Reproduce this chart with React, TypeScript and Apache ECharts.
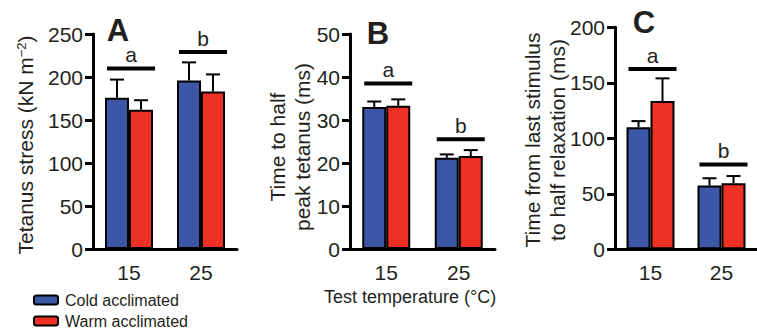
import React, { useEffect, useRef } from "react";
import * as echarts from "echarts";

const categories = ["15", "25"];
const seriesNames = ["Cold acclimated", "Warm acclimated"];

// Panel A: Tetanus stress (kN m-2)
const aCold = [176, 196];
const aColdErr = [21, 21];
const aWarm = [162, 183];
const aWarmErr = [11, 20];
const aSig = [210, 229];
const aSigLetters = ["a", "b"];

// Panel B: Time to half peak tetanus (ms)
const bCold = [33.0, 21.2];
const bColdErr = [1.3, 0.8];
const bWarm = [33.3, 21.6];
const bWarmErr = [1.5, 1.4];
const bSig = [38.5, 25.5];
const bSigLetters = ["a", "b"];

// Panel C: Time from last stimulus to half relaxation (ms)
const cCold = [110, 57.5];
const cColdErr = [5.5, 6.5];
const cWarm = [133.5, 59.5];
const cWarmErr = [20.5, 6.5];
const cSig = [162.5, 76.5];
const cSigLetters = ["a", "b"];

const BLUE = "#3b57a6";
const RED = "#ee3124";
const INK = "#231f20";
const FONT = "Liberation Sans, Arial, Helvetica, sans-serif";
const BAR_W = 24;

function errSeries(grid: number, vals: number[], errs: number[], offset: number) {
  return {
    type: "custom",
    xAxisIndex: grid,
    yAxisIndex: grid,
    z: 5,
    silent: true,
    data: vals.map((v, i) => [i, v, errs[i]]),
    renderItem: (params: any, api: any) => {
      const c = api.value(0);
      const v = api.value(1);
      const e = api.value(2);
      const p0 = api.coord([c, v]);
      const p1 = api.coord([c, v + e]);
      const x = p0[0] + offset;
      return {
        type: "group",
        children: [
          { type: "line", shape: { x1: x, y1: p0[1], x2: x, y2: p1[1] }, style: { stroke: "#000", lineWidth: 2 } },
          { type: "line", shape: { x1: x - 7, y1: p1[1], x2: x + 7, y2: p1[1] }, style: { stroke: "#000", lineWidth: 2 } },
        ],
      };
    },
  };
}

function sigSeries(grid: number, ys: number[], letters: string[]) {
  return {
    type: "custom",
    xAxisIndex: grid,
    yAxisIndex: grid,
    z: 6,
    silent: true,
    data: ys.map((y, i) => [i, y]),
    renderItem: (params: any, api: any) => {
      const c = api.value(0);
      const y = api.value(1);
      const p = api.coord([c, y]);
      const cx = p[0] + 2;
      return {
        type: "group",
        children: [
          { type: "line", shape: { x1: cx - 24, y1: p[1], x2: cx + 24, y2: p[1] }, style: { stroke: "#000", lineWidth: 4 } },
          {
            type: "text",
            x: cx,
            y: p[1] - 3,
            style: { text: letters[params.dataIndex], fontSize: 21, fontFamily: FONT, fill: INK, align: "center", verticalAlign: "bottom" },
          },
        ],
      };
    },
  };
}

function barSeries(grid: number, name: string, vals: number[], color: string) {
  return {
    type: "bar",
    name,
    xAxisIndex: grid,
    yAxisIndex: grid,
    barWidth: BAR_W,
    barGap: "0%",
    data: vals,
    itemStyle: { color, borderColor: "#000", borderWidth: 2 },
  };
}

function legendFor(name: string, top: number) {
  return {
    left: 33,
    top,
    itemWidth: 24,
    itemHeight: 9,
    padding: 0,
    data: [name],
    selectedMode: false,
    textStyle: { fontSize: 16, color: INK, fontFamily: FONT, padding: [0, 0, 0, 2] },
  };
}

export default function App() {
  const ref = useRef<HTMLDivElement>(null);
  useEffect(() => {
    if (!ref.current) return;
    const chart = echarts.init(ref.current, undefined, { renderer: "svg" });
    const grids = [
      { left: 93, top: 34, width: 144, height: 215 },
      { left: 350, top: 34, width: 145, height: 215 },
      { left: 615, top: 27.3, width: 146.7, height: 222 },
    ];
    const yRanges = [
      { max: 250, interval: 50 },
      { max: 50, interval: 10 },
      { max: 200, interval: 50 },
    ];
    const option: any = {
      animation: false,
      textStyle: { fontFamily: FONT },
      grid: grids,
      xAxis: grids.map((_, i) => ({
        type: "category",
        gridIndex: i,
        data: categories,
        axisLine: { lineStyle: { color: "#000", width: 3 } },
        axisTick: { alignWithLabel: true, length: 7, lineStyle: { color: "#000", width: 3 } },
        axisLabel: { fontSize: 21, color: INK, margin: 13, fontFamily: FONT },
      })),
      yAxis: yRanges.map((r, i) => ({
        type: "value",
        gridIndex: i,
        min: 0,
        max: r.max,
        interval: r.interval,
        splitLine: { show: false },
        axisLine: { show: true, lineStyle: { color: "#000", width: 3 } },
        axisTick: { show: true, length: 8, lineStyle: { color: "#000", width: 3 } },
        axisLabel: { fontSize: 21, color: INK, margin: 10, fontFamily: FONT },
      })),
      legend: [legendFor(seriesNames[0], 292), legendFor(seriesNames[1], 313)],
      series: [
        barSeries(0, seriesNames[0], aCold, BLUE),
        barSeries(0, seriesNames[1], aWarm, RED),
        barSeries(1, seriesNames[0], bCold, BLUE),
        barSeries(1, seriesNames[1], bWarm, RED),
        barSeries(2, seriesNames[0], cCold, BLUE),
        barSeries(2, seriesNames[1], cWarm, RED),
        errSeries(0, aCold, aColdErr, -BAR_W / 2),
        errSeries(0, aWarm, aWarmErr, BAR_W / 2),
        errSeries(1, bCold, bColdErr, -BAR_W / 2),
        errSeries(1, bWarm, bWarmErr, BAR_W / 2),
        errSeries(2, cCold, cColdErr, -BAR_W / 2),
        errSeries(2, cWarm, cWarmErr, BAR_W / 2),
        sigSeries(0, aSig, aSigLetters),
        sigSeries(1, bSig, bSigLetters),
        sigSeries(2, cSig, cSigLetters),
      ],
      graphic: [
        { type: "text", x: 118, y: 30, style: { text: "A", fontSize: 31, fontWeight: "bold", fontFamily: FONT, fill: INK, align: "center", verticalAlign: "middle" } },
        { type: "text", x: 378, y: 33, style: { text: "B", fontSize: 31, fontWeight: "bold", fontFamily: FONT, fill: INK, align: "center", verticalAlign: "middle" } },
        { type: "text", x: 644, y: 22, style: { text: "C", fontSize: 31, fontWeight: "bold", fontFamily: FONT, fill: INK, align: "center", verticalAlign: "middle" } },
        {
          type: "text",
          x: 25,
          y: 145,
          rotation: Math.PI / 2,
          style: {
            text: "{n|Tetanus stress (kN m}{s|−2}{n|)}",
            rich: {
              n: { fontSize: 21, fontFamily: FONT, fill: INK, color: INK },
              s: { fontSize: 13, fontFamily: FONT, fill: INK, color: INK, verticalAlign: "top", padding: [0, 0, 8, 0] },
            },
            align: "center",
            verticalAlign: "middle",
          },
        },
        {
          type: "text",
          x: 290,
          y: 147,
          rotation: Math.PI / 2,
          style: { text: "Time to half\npeak tetanus (ms)", fontSize: 21, lineHeight: 25, fontFamily: FONT, fill: INK, align: "center", verticalAlign: "middle" },
        },
        {
          type: "text",
          x: 545,
          y: 140,
          rotation: Math.PI / 2,
          style: { text: "Time from last stimulus\nto half relaxation (ms)", fontSize: 21, lineHeight: 25, fontFamily: FONT, fill: INK, align: "center", verticalAlign: "middle" },
        },
        {
          type: "text",
          x: 410,
          y: 297,
          style: { text: "Test temperature (°C)", fontSize: 18, fontFamily: FONT, fill: INK, align: "center", verticalAlign: "middle" },
        },
      ],
    };
    chart.setOption(option);
    return () => chart.dispose();
  }, []);
  return <div ref={ref} style={{ position: "fixed", left: 0, top: 0, width: 757, height: 329, background: "#fff" }} />;
}
